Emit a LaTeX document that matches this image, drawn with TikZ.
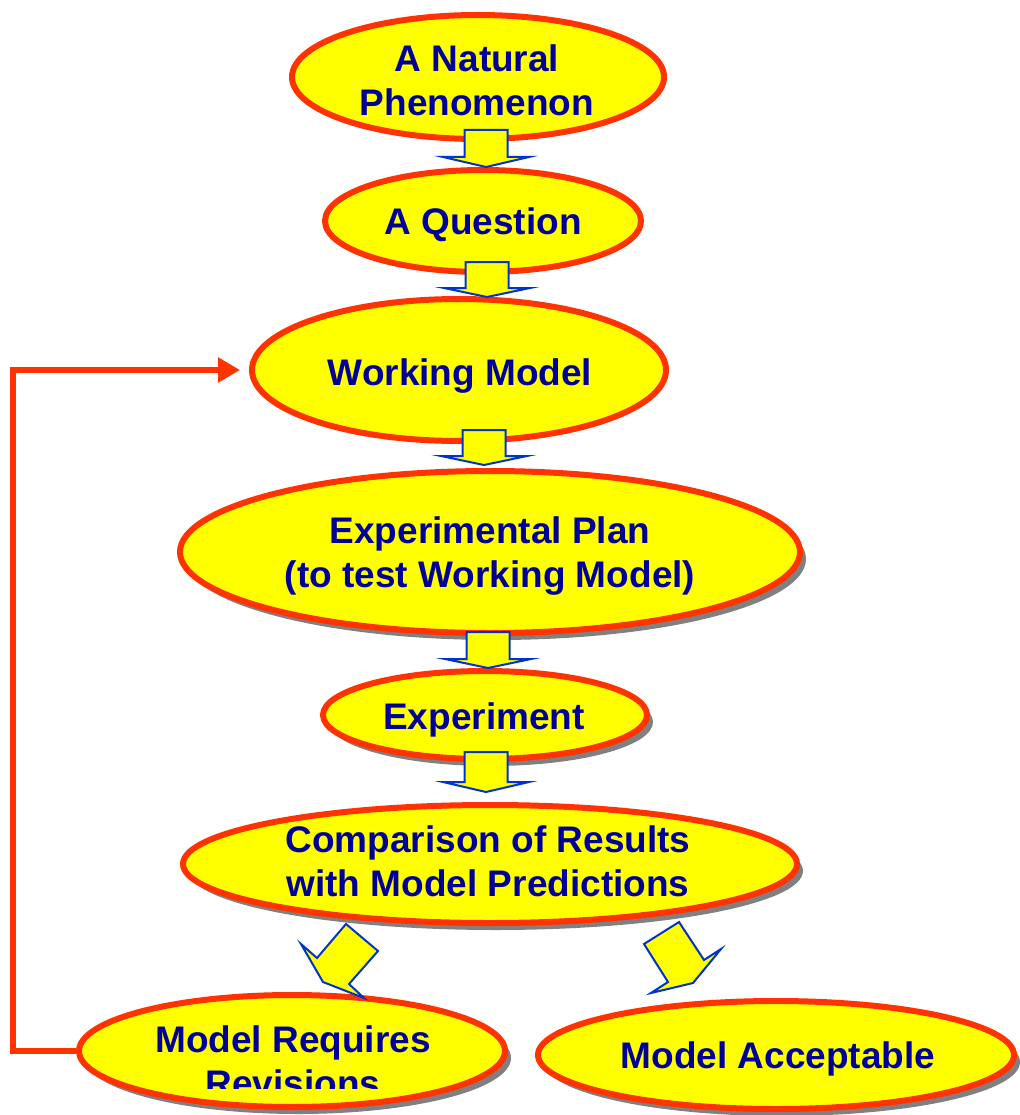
\documentclass[tikz,border=0pt]{standalone}
\usepackage{fontspec}
\setmainfont{Liberation Sans}
\usetikzlibrary{shapes.geometric,shadows,arrows.meta}
\definecolor{ellfill}{RGB}{255,255,0}
\definecolor{ellline}{RGB}{255,51,0}
\definecolor{navytext}{RGB}{0,0,153}
\definecolor{blkline}{RGB}{0,51,204}
\definecolor{shadowgray}{RGB}{128,128,128}
\tikzset{
  ell/.style={ellipse, draw=ellline, fill=ellfill, line width=6pt, inner sep=0pt},
  shad/.style={drop shadow={shadow xshift=6pt, shadow yshift=-7pt, fill=shadowgray, opacity=1}},
  lbl/.style={font=\fontsize{37}{44}\selectfont\bfseries, text=navytext, align=center, inner sep=0pt, anchor=base},
  blk/.style={draw=blkline, fill=ellfill, line width=2pt, line join=miter},
  fb/.style={draw=ellline, line width=6pt, line join=miter, -{Triangle[length=22pt,width=24pt]}}
}
\newcommand\blkdown[4]{%
  \draw[blk] ({#1-21.5},#2) -- ({#1+21.5},#2) -- ({#1+21.5},#3) -- ({#1+43},#3) -- (#1,#4) -- ({#1-43},#3) -- ({#1-21.5},#3) -- cycle;}
\begin{document}
\begin{tikzpicture}[x=1pt,y=-1pt]
\useasboundingbox (0,0) rectangle (1019,1115);
% ellipses
\node[ell, minimum width=372pt, minimum height=124pt] (nat) at (478,77) {};
\node[ell, minimum width=316pt, minimum height=102pt] (que) at (483,221) {};
\node[ell, minimum width=414pt, minimum height=142pt] (wm) at (459,370) {};
\node[ell, shad, minimum width=620pt, minimum height=162pt] (plan) at (490,552) {};
\node[ell, shad, minimum width=324pt, minimum height=88pt] (exp) at (485,715) {};
\node[ell, shad, minimum width=614pt, minimum height=118pt] (cmp) at (490,864) {};
\node[ell, shad, minimum width=426pt, minimum height=112pt] (req) at (292,1051) {};
\node[ell, shad, minimum width=476pt, minimum height=108pt] (acc) at (776,1055) {};
% feedback connector
\coordinate (wmtip) at (240,370);
\draw[fb] (req.west) -- ++(-63,0) |- (wmtip);
% block arrows
\blkdown{486}{130}{157}{167}
\blkdown{487}{262}{288}{297}
\blkdown{484}{430}{456}{465}
\blkdown{488}{632}{659}{668}
\blkdown{486}{752}{782}{792}
\draw[blk] (317,958) -- (346,924) -- (378,951) -- (349,984) -- (364,998) -- (323,982) -- (301,944) -- cycle;
\draw[blk] (644,944) -- (679,922) -- (704,960) -- (721,949) -- (693,983) -- (651,993) -- (668,982) -- cycle;
% texts (base anchor = baseline of the last line)
\node[lbl] (tnat) at (477,116) {A Natural\\Phenomenon};
\node[lbl] (tque) at (483,235) {A Question};
\node[lbl] (twm) at (460,385) {Working Model};
\node[lbl] (tplan) at (490,587) {Experimental Plan\\(to test Working Model)};
\node[lbl] (texp) at (484,729) {Experiment};
\node[lbl] (tcmp) at (488,896) {Comparison of Results\\with Model Predictions};
\begin{scope}
\clip (0,0) rectangle (1019,1088);
\node[lbl] (treq) at (293,1096) {Model Requires\\Revisions};
\end{scope}
\node[lbl] (tacc) at (778,1068) {Model Acceptable};
\end{tikzpicture}
\end{document}
